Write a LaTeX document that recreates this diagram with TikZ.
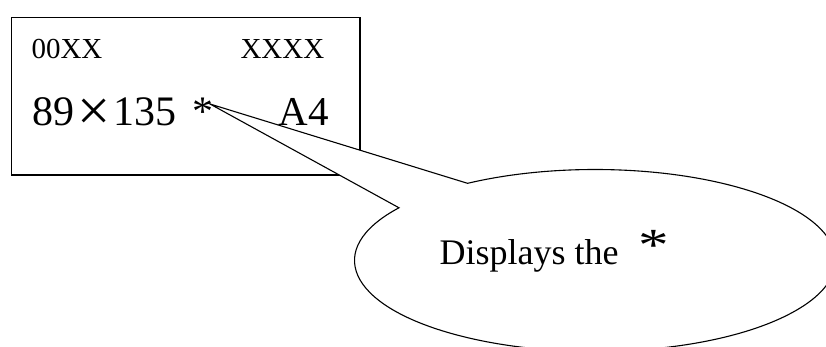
\documentclass[tikz,border=0pt]{standalone}
\usepackage{fontspec}
\usepackage{graphicx}
\setmainfont{Liberation Serif}
\tikzset{
  txt/.style={inner sep=0pt, anchor=base west},
  panelbox/.style={draw, line width=1.4pt, inner sep=0pt, anchor=north west},
  bubble/.style={draw, line width=1.1pt, fill=white, line join=miter}
}
\begin{document}
\begin{tikzpicture}[x=1pt,y=1pt]
\useasboundingbox (0,0) rectangle (826,347);
\clip (0,0) rectangle (826,347);
% display panel
\node[panelbox, minimum width=348.3pt, minimum height=157.8pt] (panel) at (11,330.3) {};
% callout bubble
\coordinate (c) at (595,86.5);
\coordinate (tip) at (210,243);
\coordinate (p2) at ([shift={(144.6:240.5pt and 91pt)}]c);
\draw[bubble] (tip) -- (p2) arc[start angle=144.6, end angle=482, x radius=240.5pt, y radius=91pt] -- cycle;
% texts
\node[txt] (code) at (31.3,288) {\fontsize{29}{29}\selectfont 00XX};
\node[txt] (xxxx) at (240.3,288) {\fontsize{29}{29}\selectfont XXXX};
\node[txt] (size) at (32.6,221.5) {\fontsize{42}{42}\selectfont 89\makebox[38.4pt]{\raisebox{-5.5pt}{\scalebox{1.4}{×}}}135\hspace{16pt}*};
\node[txt] (paper) at (278.4,221.5) {\fontsize{41}{41}\selectfont A4};
\node[txt] (msg) at (439.4,82) {\fontsize{36}{36}\selectfont Displays the\hspace{20pt}\raisebox{4pt}{\fontsize{46}{46}\selectfont\scalebox{1.33}[1]{*}}};
\end{tikzpicture}
\end{document}
